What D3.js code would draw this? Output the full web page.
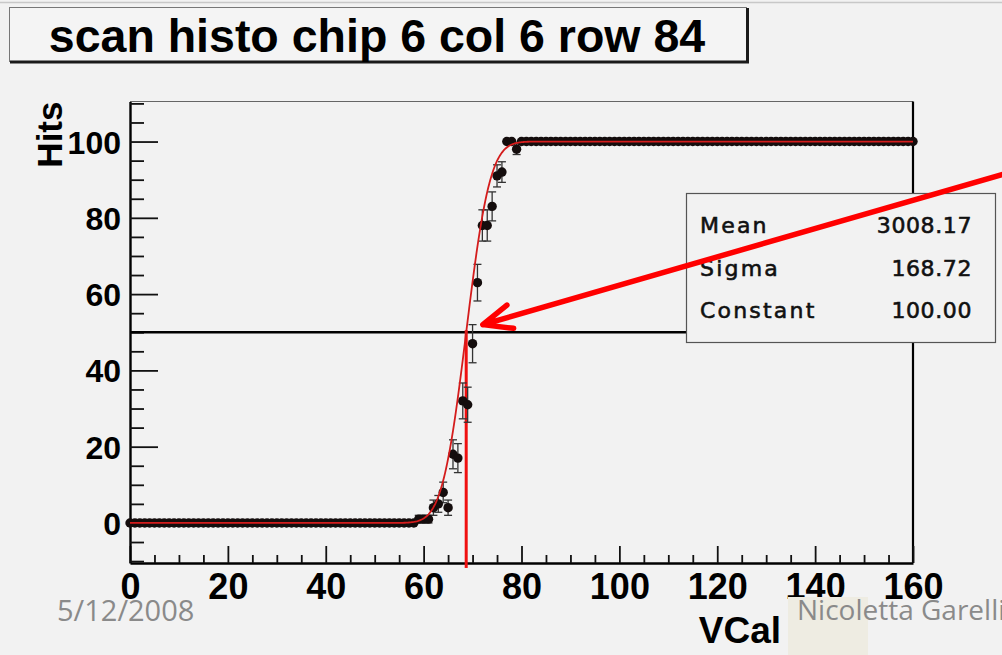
<!DOCTYPE html>
<html>
<head>
<meta charset="utf-8">
<script src="https://cdn.jsdelivr.net/npm/d3@7"></script>
<style>
  body { margin: 0; background: #f2f2f2; overflow: hidden; }
  svg { display: block; }
  .lbl { font-family: "Liberation Sans", Arial, sans-serif; font-weight: bold; fill: #000; }
  .stat { font-family: "DejaVu Sans", sans-serif; fill: #111; stroke: #111; stroke-width: 0.6; }
  .foot { font-family: "Open Sans", "Noto Sans", sans-serif; fill: #8a8a8a; }
</style>
</head>
<body>
<svg id="chart" width="1002" height="655"></svg>
<script>
const titleText = 'scan histo chip 6 col 6 row 84'
const xTitle = 'VCal'
const yTitle = 'Hits'
const xTicks = [0, 20, 40, 60, 80, 100, 120, 140, 160]
const yTicks = [0, 20, 40, 60, 80, 100]

// hits per VCal bin, index = VCal value (0..160)
const hits = [
  0, 0, 0, 0, 0, 0, 0, 0, 0, 0,
  0, 0, 0, 0, 0, 0, 0, 0, 0, 0,
  0, 0, 0, 0, 0, 0, 0, 0, 0, 0,
  0, 0, 0, 0, 0, 0, 0, 0, 0, 0,
  0, 0, 0, 0, 0, 0, 0, 0, 0, 0,
  0, 0, 0, 0, 0, 0, 0, 0, 0, 1,
  1, 1, 4, 5, 8, 4, 18, 17, 32, 31,
  47, 63, 78, 78, 83, 91, 92, 100, 100, 98,
  100, 100, 100, 100, 100, 100, 100, 100, 100, 100,
  100, 100, 100, 100, 100, 100, 100, 100, 100, 100,
  100, 100, 100, 100, 100, 100, 100, 100, 100, 100,
  100, 100, 100, 100, 100, 100, 100, 100, 100, 100,
  100, 100, 100, 100, 100, 100, 100, 100, 100, 100,
  100, 100, 100, 100, 100, 100, 100, 100, 100, 100,
  100, 100, 100, 100, 100, 100, 100, 100, 100, 100,
  100, 100, 100, 100, 100, 100, 100, 100, 100, 100,
  100
]
// error bars for bins 59..79
const errFirstBin = 59
const hitErr = [1.0, 1.0, 1.0, 2.0, 2.2, 2.7, 2.0, 3.8, 3.8, 4.7, 4.6, 5.0, 4.8, 4.1, 4.1, 3.8, 2.9, 2.7, 0, 0, 1.4]

const statNames = ['Mean', 'Sigma', 'Constant']
const statValues = ['3008.17', '168.72', '100.00']

// fit (erf) in VCal units
const fitThreshold = 68.7
const fitSigma = 3.85
const fitConstant = 100
const halfLevel = 50

const arrowFrom = [180, 92]
const arrowTo = [72.1, 52]

const footLeft = '5/12/2008'
const footRight = 'Nicoletta Garelli'

const svg = d3.select('#chart')

const x = d3.scaleLinear().domain([0, 160]).range([130, 913])
const y = d3.scaleLinear().domain([-10.5, 110.5]).range([563, 101.5])

function erf(v) {
  const s = Math.sign(v)
  v = Math.abs(v)
  const t = 1 / (1 + 0.3275911 * v)
  const r = 1 - (((((1.061405429 * t - 1.453152027) * t) + 1.421413741) * t - 0.284496736) * t + 0.254829592) * t * Math.exp(-v * v)
  return s * r
}

// top strip line
svg.append('line').attr('x1', 0).attr('x2', 1002).attr('y1', 2.5).attr('y2', 2.5)
  .attr('stroke', '#c8c8c8').attr('stroke-width', 1.5)

// title box
svg.append('rect').attr('x', 9.5).attr('y', 7.5).attr('width', 737).attr('height', 54)
  .attr('fill', '#f4f4f4').attr('stroke', '#777').attr('stroke-width', 1)
svg.append('path').attr('d', 'M10,62 H747.5 V8')
  .attr('fill', 'none').attr('stroke', '#1a1a1a').attr('stroke-width', 3)
svg.append('text').attr('class', 'lbl').attr('x', 377).attr('y', 52)
  .attr('text-anchor', 'middle').style('font-size', '46.5px').text(titleText)

// frame top / right
svg.append('line').attr('x1', x(0)).attr('x2', x(160)).attr('y1', y(110.5)).attr('y2', y(110.5))
  .attr('stroke', '#666').attr('stroke-width', 1.2)
svg.append('line').attr('x1', x(160)).attr('x2', x(160)).attr('y1', y(110.5)).attr('y2', y(-10.5))
  .attr('stroke', '#000').attr('stroke-width', 2.2)

// axes
const minorX = d3.range(0, 161, 5).filter(d => d % 20 !== 0)
const minorY = d3.range(-10, 111, 5).filter(d => d % 20 !== 0)

const gx = svg.append('g').attr('transform', `translate(0,${y(-10.5)})`)
gx.call(d3.axisBottom(x).tickValues(xTicks).tickSize(-17).tickSizeOuter(0).tickPadding(10))
svg.append('g').attr('transform', `translate(0,${y(-10.5)})`)
  .call(d3.axisBottom(x).tickValues(minorX).tickSize(-8).tickSizeOuter(0).tickFormat(''))
  .call(g => g.select('.domain').remove())

const gy = svg.append('g').attr('transform', `translate(${x(0)},0)`)
gy.call(d3.axisLeft(y).tickValues(yTicks).tickSize(-28).tickSizeOuter(0).tickPadding(9))
svg.append('g').attr('transform', `translate(${x(0)},0)`)
  .call(d3.axisLeft(y).tickValues(minorY).tickSize(-14).tickSizeOuter(0).tickFormat(''))
  .call(g => g.select('.domain').remove())

svg.selectAll('.tick line').attr('stroke', '#111').attr('stroke-width', 1.8)
svg.selectAll('.domain').attr('stroke', '#000').attr('stroke-width', 2.4)
gx.selectAll('text').attr('class', 'lbl').style('font-size', '36px').attr('fill', '#000')
gy.selectAll('text').attr('class', 'lbl').style('font-size', '32px').attr('fill', '#000')
  .attr('dy', '0.36em')

// axis titles
svg.append('text').attr('class', 'lbl').attr('x', 781).attr('y', 643)
  .attr('text-anchor', 'end').style('font-size', '37px').text(xTitle)
svg.append('text').attr('class', 'lbl')
  .attr('transform', `translate(62,${y(110.5)}) rotate(-90)`)
  .attr('text-anchor', 'end').style('font-size', '35px').text(yTitle)

// 50% line
svg.append('line').attr('x1', x(0)).attr('x2', x(160)).attr('y1', y(halfLevel)).attr('y2', y(halfLevel))
  .attr('stroke', '#000').attr('stroke-width', 2.5)

// threshold marker
svg.append('line').attr('x1', x(fitThreshold)).attr('x2', x(fitThreshold))
  .attr('y1', y(halfLevel) - 2).attr('y2', y(-11.8))
  .attr('stroke', '#f01010').attr('stroke-width', 3)

// points + error bars
const bins = hits.map((h, i) => ({ vcal: i, hits: h, err: (i >= errFirstBin && i < errFirstBin + hitErr.length) ? hitErr[i - errFirstBin] : 0 }))

const eb = svg.append('g').attr('stroke', '#333').attr('stroke-width', 1.3)
bins.filter(d => d.err > 0).forEach(d => {
  const cx = x(d.vcal)
  eb.append('line').attr('x1', cx).attr('x2', cx).attr('y1', y(d.hits - d.err)).attr('y2', y(d.hits + d.err))
  eb.append('line').attr('x1', cx - 4).attr('x2', cx + 4).attr('y1', y(d.hits - d.err)).attr('y2', y(d.hits - d.err))
  eb.append('line').attr('x1', cx - 4).attr('x2', cx + 4).attr('y1', y(d.hits + d.err)).attr('y2', y(d.hits + d.err))
})

svg.append('g').selectAll('circle').data(bins).enter().append('circle')
  .attr('cx', d => x(d.vcal)).attr('cy', d => y(d.hits)).attr('r', 4.7)
  .attr('fill', '#140d0d')

// fit curve
const fitLine = d3.line().x(d => x(d)).y(d => y(fitConstant * 0.5 * (1 + erf((d - fitThreshold) / (Math.SQRT2 * fitSigma)))))
svg.append('path').datum(d3.range(0, 160.001, 0.2)).attr('d', fitLine)
  .attr('fill', 'none').attr('stroke', '#d41c1c').attr('stroke-width', 1.8)

// stats box
svg.append('rect').attr('x', 686.5).attr('y', 193.5).attr('width', 309).attr('height', 149)
  .attr('fill', '#f2f2f2').attr('stroke', '#555').attr('stroke-width', 1.2)
statNames.forEach((n, i) => {
  svg.append('text').attr('class', 'stat').attr('x', 700).attr('y', 233 + i * 42.5)
    .style('font-size', '22px').style('letter-spacing', '2.2px').text(n)
  svg.append('text').attr('class', 'stat').attr('x', 972).attr('y', 233 + i * 42.5)
    .attr('text-anchor', 'end').style('font-size', '22px').style('letter-spacing', '0.6px').text(statValues[i])
})

// arrow
const ax0 = x(arrowFrom[0]), ay0 = y(arrowFrom[1]), ax1 = x(arrowTo[0]), ay1 = y(arrowTo[1])
const ang = Math.atan2(ay0 - ay1, ax0 - ax1)
const wing = 31, spread = 23 * Math.PI / 180
svg.append('path')
  .attr('d', `M${ax0},${ay0} L${ax1},${ay1} M${ax1 + wing * Math.cos(ang - spread)},${ay1 + wing * Math.sin(ang - spread)} L${ax1},${ay1} L${ax1 + wing * Math.cos(ang + spread)},${ay1 + wing * Math.sin(ang + spread)}`)
  .attr('fill', 'none').attr('stroke', '#ff0000').attr('stroke-width', 5.5)
  .attr('stroke-linecap', 'round').attr('stroke-linejoin', 'round')

// footer
svg.append('rect').attr('x', 788).attr('y', 597).attr('width', 80).attr('height', 58).attr('fill', '#eeece2')
svg.append('text').attr('class', 'foot').attr('x', 57).attr('y', 621).style('font-size', '29px').text(footLeft)
svg.append('text').attr('class', 'foot').attr('x', 797).attr('y', 620).style('font-size', '28px').text(footRight)
</script>
</body>
</html>
